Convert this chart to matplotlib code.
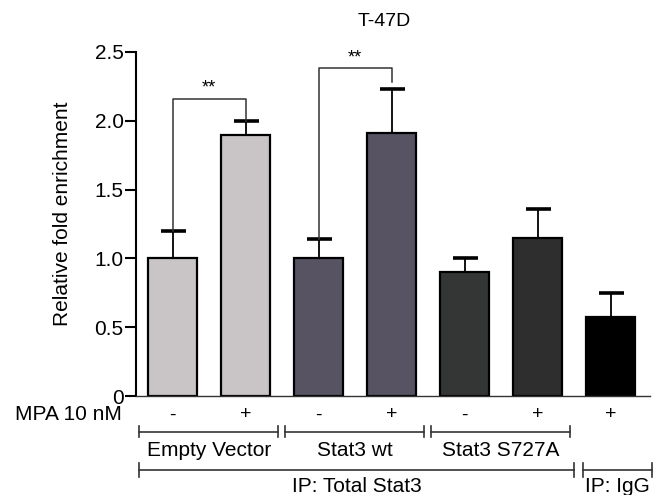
import numpy as np
import matplotlib
matplotlib.use("Agg")
import matplotlib.pyplot as plt

plt.rcParams['font.family'] = ['Liberation Sans', 'DejaVu Sans']

# data
values = [1.0, 1.9, 1.0, 1.91, 0.9, 1.15, 0.575]
errors = [0.2, 0.1, 0.14, 0.32, 0.1, 0.21, 0.175]
mpa = ['-', '+', '-', '+', '-', '+', '+']
colors = ['#c9c5c7', '#c9c5c7', '#575363', '#575363', '#333634', '#2e2e2e', '#000000']
groups = ['Empty Vector', 'Stat3 wt', 'Stat3 S727A']
ip_labels = ['IP: Total Stat3', 'IP: IgG']
yticks = [0, 0.5, 1.0, 1.5, 2.0, 2.5]
ytick_labels = ['0', '0.5', '1.0', '1.5', '2.0', '2.5']
sig_pairs = [(0, 1), (2, 3)]
sig_heights = [2.16, 2.38]
sig_ends = [(1.2, 2.0), (1.14, 2.28)]

x = np.arange(len(values))
tops = np.array(values) + np.array(errors)

fig = plt.figure(figsize=(6.54, 4.95), dpi=100)
ax = fig.add_axes([0.208, 0.2, 0.786, 0.695])

ax.bar(x, values, width=0.67, color=colors, edgecolor='black', linewidth=1.6, zorder=2)
# upper error bars only
ax.vlines(x, values, tops, color='black', lw=1.3, zorder=1)
ax.plot(x, tops, ls='none', marker='_', ms=18, mew=2.6, color='black', zorder=1)

ax.set_xlim(-0.5, 6.54)
ax.set_ylim(0, 2.5)
ax.set_yticks(yticks)
ax.set_yticklabels(ytick_labels, fontsize=15)
ax.set_xticks([])
ax.spines['top'].set_visible(False)
ax.spines['right'].set_visible(False)
ax.spines['left'].set_linewidth(1.5)
ax.spines['bottom'].set_linewidth(1.0)
ax.spines['bottom'].set_color('#333333')
ax.tick_params(axis='y', length=8, width=1.5, pad=1)
ax.set_ylabel('Relative fold enrichment', fontsize=15)
ax.yaxis.set_label_coords(-0.125, 0.53)
fig.text(384 / 654, 1 - 22 / 495, 'T-47D', ha='center', va='center', fontsize=14)

# significance brackets
for (a, b), h, (ya, yb) in zip(sig_pairs, sig_heights, sig_ends):
    ax.plot([a, a, b, b], [ya, h, h, yb], color='#333333', lw=1.1, clip_on=False, zorder=3)
    ax.text((a + b) / 2, h + 0.015, '**', ha='center', va='bottom', fontsize=13)

# MPA row
ax.text(-0.7, -0.138, 'MPA 10 nM', ha='right', va='center', fontsize=15, clip_on=False)
for xi, s in zip(x, mpa):
    ax.text(xi, -0.138, s, ha='center', va='center', fontsize=14, clip_on=False)

tick = 0.04
# group brackets
for i, g in enumerate(groups):
    x0, x1 = 2 * i - 0.46, 2 * i + 1.45
    y = -0.26
    ax.plot([x0, x1], [y, y], color='#333333', lw=1.2, clip_on=False)
    ax.plot([x0, x0], [y - tick, y + tick], color='#333333', lw=1.2, clip_on=False)
    ax.plot([x1, x1], [y - tick, y + tick], color='#333333', lw=1.2, clip_on=False)
    ax.text((x0 + x1) / 2, -0.395, g, ha='center', va='center', fontsize=15, clip_on=False)

# IP brackets
ip_spans = [(-0.46, 5.5), (5.62, 6.56)]
for (x0, x1), lab in zip(ip_spans, ip_labels):
    y = -0.54
    ax.plot([x0, x1], [y, y], color='#333333', lw=1.2, clip_on=False)
    ax.plot([x0, x0], [y - 0.05, y + 0.05], color='#333333', lw=1.2, clip_on=False)
    ax.plot([x1, x1], [y - 0.05, y + 0.05], color='#333333', lw=1.2, clip_on=False)
    ax.text((x0 + x1) / 2, -0.66, lab, ha='center', va='center', fontsize=15, clip_on=False)

fig.savefig('out.png', dpi=100)
